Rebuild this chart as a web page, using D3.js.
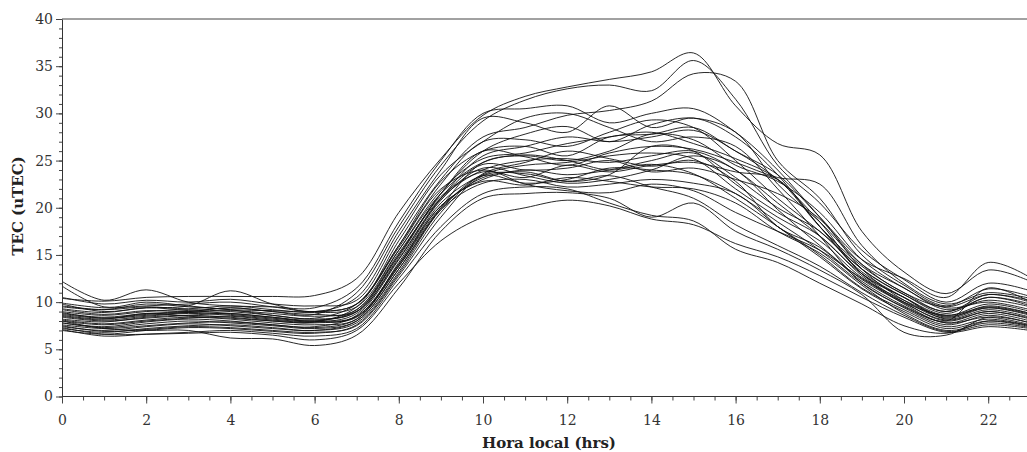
<!DOCTYPE html>
<html>
<head>
<meta charset="utf-8">
<script src="https://cdn.jsdelivr.net/npm/d3@7"></script>
<style>
  body { margin: 0; background: #fff; }
  .tick text { font-family: "DejaVu Serif", serif; font-size: 14px; fill: #333; }
  .label { font-family: "DejaVu Serif", serif; font-size: 15px; font-weight: bold; fill: #222; }
</style>
</head>
<body>
<div id="chart"></div>
<script>
// Data: hourly TEC values (hora local 0..23), one array per day
const hours = d3.range(0, 24);
const xTicks = [0, 2, 4, 6, 8, 10, 12, 14, 16, 18, 20, 22];
const yTicks = [0, 5, 10, 15, 20, 25, 30, 35, 40];

const tec01 = [10.4,10.1,10.5,10.6,10.6,10.6,10.7,12.5,19.5,25.2,29.8,31.8,32.8,33.6,34.4,36.4,30.8,26.8,25.6,17.5,13.2,10.9,13.4,12.2];
const tec02 = [9.2,8.7,9.1,9.0,9.4,9.0,8.7,11.0,18.0,24.5,29.2,31.4,32.6,33.0,32.4,35.6,31.5,24.5,20.5,15.5,12.4,10.0,12.0,11.2];
const tec03 = [8.6,8.2,8.8,8.5,8.3,8.0,7.9,9.5,16.5,23.0,27.5,28.5,29.8,30.3,31.3,34.2,33.4,25.0,21.0,15.0,11.8,9.6,11.4,10.6];
const tec04 = [12.2,10.2,11.3,10.0,9.6,9.5,9.4,11.5,18.5,25.0,30.0,30.5,30.8,29.0,30.0,30.5,28.0,24.0,19.0,14.0,11.0,9.5,10.8,10.2];
const tec05 = [9.8,9.0,9.4,9.6,11.2,9.8,9.0,10.5,17.5,24.0,29.5,29.0,28.0,30.8,28.5,29.5,27.5,23.5,18.0,13.5,10.8,9.0,10.5,9.8];
const tec06 = [8.4,8.0,8.3,8.6,8.8,8.4,8.1,9.0,15.0,21.5,26.0,27.8,28.6,27.0,28.8,29.5,28.0,22.5,18.5,14.0,11.5,9.2,10.2,9.5];
const tec07 = [7.8,7.4,7.9,8.2,8.0,7.6,7.4,8.6,14.5,21.0,25.5,26.5,27.5,27.0,27.5,28.2,26.0,23.0,18.5,13.0,10.5,8.6,9.8,9.0];
const tec08 = [9.5,9.2,9.8,9.5,9.2,8.6,8.3,9.8,16.0,22.5,27.0,27.2,26.5,28.0,29.3,28.5,25.0,21.0,17.5,13.5,10.8,8.8,10.5,9.6];
const tec09 = [8.9,8.3,8.6,8.9,9.1,8.8,8.5,9.2,15.5,21.8,25.2,25.8,26.8,27.5,28.0,26.8,25.2,23.0,18.0,13.8,11.0,9.0,10.8,10.0];
const tec10 = [7.2,6.8,7.2,7.5,7.6,7.3,7.0,8.0,13.5,20.0,24.8,25.5,25.0,26.0,27.8,27.2,24.5,22.8,19.5,14.5,11.5,9.4,10.0,9.2];
const tec11 = [8.0,7.6,8.0,8.3,8.5,8.1,7.9,8.8,14.8,21.5,26.0,25.4,24.5,25.8,26.5,26.2,24.8,23.2,22.5,16.0,12.0,9.8,11.0,10.4];
const tec12 = [9.0,8.6,9.0,9.2,9.0,8.6,8.2,9.0,15.2,21.0,24.0,25.0,25.2,24.8,25.5,26.0,24.0,20.5,17.0,13.0,10.5,8.4,9.6,8.8];
const tec13 = [8.2,7.9,8.4,8.6,8.4,8.0,7.8,8.5,14.0,20.5,23.5,24.5,24.8,25.5,25.8,25.2,22.0,19.0,16.5,12.6,10.2,8.5,9.4,8.6];
const tec14 = [7.6,7.2,7.5,7.8,7.9,7.6,7.3,8.2,13.8,20.2,23.0,24.0,23.5,24.0,25.0,25.8,23.2,20.0,17.5,13.2,10.5,8.2,9.2,8.4];
const tec15 = [9.3,8.9,9.4,9.1,8.8,8.4,8.0,9.2,15.0,21.2,23.8,23.2,24.5,23.8,24.5,24.8,23.8,23.0,18.0,13.0,10.0,8.0,9.0,8.2];
const tec16 = [8.5,8.1,8.5,8.8,8.6,8.2,7.9,8.4,13.8,20.0,23.2,23.8,22.8,23.5,26.5,26.0,22.5,19.5,17.0,12.8,9.8,7.8,8.8,8.0];
const tec17 = [7.4,7.0,7.4,7.7,7.5,7.2,7.0,7.8,13.2,19.8,23.4,22.6,23.0,24.2,24.0,23.5,21.5,18.5,15.5,12.0,9.4,7.6,8.6,7.8];
const tec18 = [8.8,8.4,8.8,9.0,9.4,9.0,8.7,9.0,14.6,21.0,24.6,24.0,24.2,25.0,23.8,24.2,23.0,21.5,18.8,13.5,10.2,8.3,9.4,8.7];
const tec19 = [7.0,6.6,7.0,7.3,7.2,6.9,6.7,7.6,13.0,19.5,23.6,24.8,26.0,25.2,24.4,25.0,22.8,18.0,15.8,12.2,9.6,7.8,8.4,7.6];
const tec20 = [8.1,7.7,8.1,8.4,8.2,7.8,7.6,8.2,14.2,20.8,24.2,23.4,22.6,23.0,24.0,25.5,24.0,19.8,16.0,12.4,9.9,8.1,9.0,8.3];
const tec21 = [9.6,9.2,9.5,9.3,9.6,9.2,8.9,9.5,15.5,21.5,24.8,25.6,25.0,24.0,24.6,23.6,21.0,18.0,15.0,11.5,9.2,7.4,8.2,7.5];
const tec22 = [7.8,7.3,7.7,8.0,7.8,7.5,7.2,8.0,13.5,19.8,22.6,23.0,22.2,22.5,23.0,22.6,21.5,18.0,14.8,11.4,9.0,7.2,8.0,7.4];
const tec23 = [8.7,8.3,8.7,8.9,8.7,8.3,8.0,8.5,14.0,20.2,22.8,22.4,23.2,22.8,22.2,22.0,20.5,17.5,15.2,11.8,8.8,7.0,7.8,7.3];
const tec24 = [7.5,6.9,7.1,7.4,7.3,7.0,6.8,7.5,12.8,19.0,23.4,23.6,22.8,23.4,22.2,21.0,18.2,16.0,13.8,11.0,8.6,6.9,7.6,7.2];
const tec25 = [9.9,9.4,9.6,9.8,10.0,9.5,9.0,9.8,15.8,22.0,24.0,22.5,21.8,21.6,22.5,21.8,19.5,17.5,15.5,12.5,10.0,8.6,9.5,8.8];
const tec26 = [7.3,6.6,6.6,6.7,6.8,6.5,6.0,7.0,12.0,16.5,19.0,20.0,20.8,20.2,18.8,18.2,16.2,14.8,12.8,10.5,8.4,6.8,7.4,7.0];
const tec27 = [8.0,7.2,7.0,7.0,6.2,6.1,5.4,6.5,11.5,17.5,21.0,21.5,21.6,21.0,19.0,20.5,17.5,15.6,13.4,10.8,6.8,6.5,8.4,7.8];
const tec28 = [7.1,6.4,6.6,6.8,7.0,6.7,6.4,7.2,12.5,18.0,21.5,22.2,22.0,20.5,19.2,18.6,15.6,14.2,12.0,9.8,7.5,6.7,8.0,7.5];
const tec29 = [10.5,9.8,10.2,10.0,10.3,9.8,9.6,10.2,17.0,23.5,27.0,29.5,30.0,28.5,27.0,27.5,26.5,22.0,17.0,12.0,9.5,8.0,11.5,10.0];
const tec30 = [11.7,9.5,10.0,9.6,9.2,9.1,9.0,9.8,16.0,22.8,26.0,26.5,25.5,27.5,27.8,28.5,26.0,23.5,19.0,14.5,12.5,10.5,14.2,12.6];

const days = [tec01, tec02, tec03, tec04, tec05, tec06, tec07, tec08, tec09, tec10,
              tec11, tec12, tec13, tec14, tec15, tec16, tec17, tec18, tec19, tec20,
              tec21, tec22, tec23, tec24, tec25, tec26, tec27, tec28, tec29, tec30];

// dimensions
const W = 1027, H = 452;
const margin = { left: 62, top: 19 };
const plotBottom = 396.5;
const hourPx = 42.1;

const svg = d3.select("#chart").append("svg")
    .attr("width", W)
    .attr("height", H);

const x = d3.scaleLinear()
    .domain([0, 23])
    .range([margin.left, margin.left + 23 * hourPx]);

const y = d3.scaleLinear()
    .domain([0, 40])
    .range([plotBottom, margin.top]);

// curves
const line = d3.line()
    .x((d, i) => x(hours[i]))
    .y(d => y(d))
    .curve(d3.curveCatmullRom.alpha(0.5));

svg.append("g")
    .selectAll("path")
    .data(days)
    .join("path")
    .attr("fill", "none")
    .attr("stroke", "#111")
    .attr("stroke-width", 0.9)
    .attr("d", line);

// top border
svg.append("line")
    .attr("x1", x(0)).attr("x2", W)
    .attr("y1", y(40)).attr("y2", y(40))
    .attr("stroke", "#444");

// minor ticks
svg.append("g")
    .attr("transform", `translate(0,${plotBottom})`)
    .call(d3.axisBottom(x).tickValues(d3.range(0, 23.01, 0.5)).tickSize(4).tickFormat(""))
    .call(g => g.select(".domain").remove())
    .selectAll("line").attr("stroke", "#444");

svg.append("g")
    .attr("transform", `translate(${margin.left},0)`)
    .call(d3.axisLeft(y).tickValues(d3.range(0, 41, 1)).tickSize(3).tickFormat(""))
    .call(g => g.select(".domain").remove())
    .selectAll("line").attr("stroke", "#444");

// major axes
const xAxis = svg.append("g")
    .attr("transform", `translate(0,${plotBottom})`)
    .call(d3.axisBottom(x).tickValues(xTicks).tickSize(7).tickPadding(12).tickSizeOuter(0));
xAxis.select(".domain").attr("d", `M${x(0)},0H${W}`).attr("stroke", "#333");
xAxis.selectAll(".tick line").attr("stroke", "#444");

const yAxis = svg.append("g")
    .attr("transform", `translate(${margin.left},0)`)
    .call(d3.axisLeft(y).tickValues(yTicks).tickSize(6).tickPadding(3).tickSizeOuter(0));
yAxis.select(".domain").attr("stroke", "#333");
yAxis.selectAll(".tick line").attr("stroke", "#444");

// axis labels
svg.append("text")
    .attr("class", "label")
    .attr("x", 549)
    .attr("y", 448)
    .attr("text-anchor", "middle")
    .text("Hora local (hrs)");

svg.append("text")
    .attr("class", "label")
    .attr("transform", "translate(23,206) rotate(-90)")
    .attr("text-anchor", "middle")
    .text("TEC (uTEC)");
</script>
</body>
</html>
